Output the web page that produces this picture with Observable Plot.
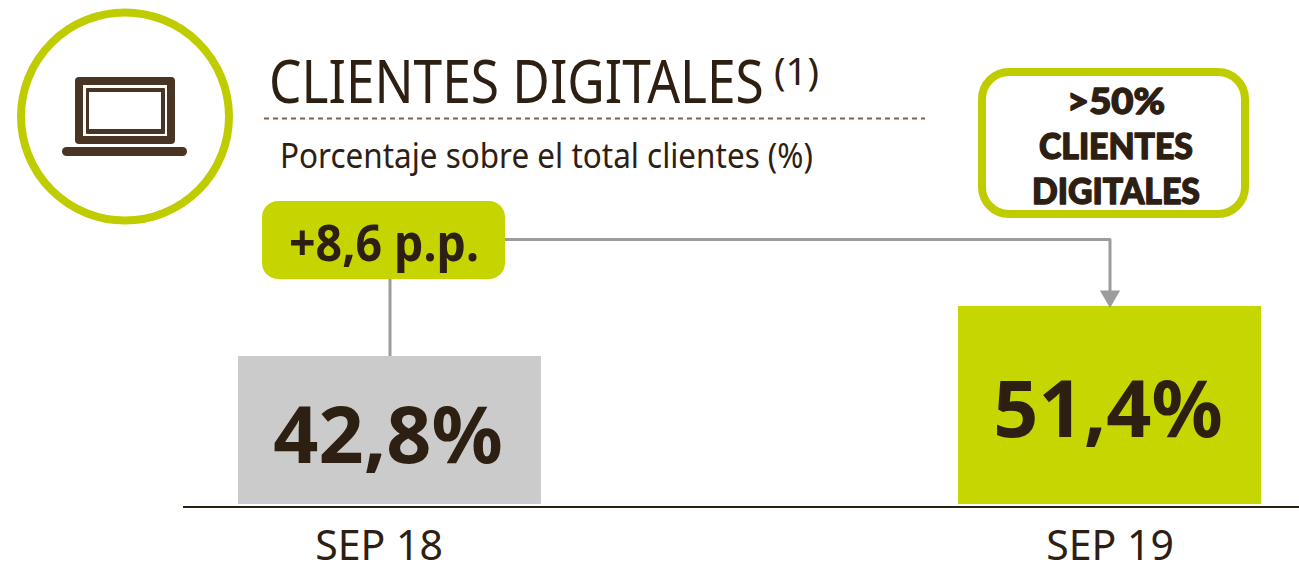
<!DOCTYPE html>
<html><head><meta charset="utf-8">
<script src="https://cdn.jsdelivr.net/npm/d3@7"></script>
<script src="https://cdn.jsdelivr.net/npm/@observablehq/plot@0.6"></script>
<style>html,body{margin:0;padding:0;background:#fff;overflow:hidden}svg{display:block}</style>
</head><body><div id="chart"></div>
<script>
const categories = ["SEP 18", "SEP 19"];
const values = [42.8, 51.4];
const barColors = ["#cbcbcb", "#c5d600"];
const titleText = "CLIENTES DIGITALES";
const subtitleText = "Porcentaje sobre el total clientes (%)";
const deltaText = "+8,6 p.p.";
const calloutLines = [">50%", "CLIENTES", "DIGITALES"];
const connectorLevel = 62.94;
const axisBase = 17.33;

const ink = "#2d2013", brown = "#4a3423", lime = "#bfcc00", grey = "#9c9c9c";
const data = categories.map((c, i) => ({c, v: values[i], color: barColors[i]}));
const font = "'Noto Sans', sans-serif";

function decor() {
  const g = d3.create("svg:g");
  const R = (x, y, w, h, rx, fill) => g.append("rect").attr("x", x).attr("y", y).attr("width", w).attr("height", h).attr("rx", rx).attr("fill", fill);
  const T = (s, x, y, size, weight, len, anchor = "start", fam = font) => g.append("text").text(s)
    .attr("data-x", x).attr("data-y", y).attr("data-len", len)
    .attr("font-size", size).attr("font-weight", weight).attr("font-family", fam).attr("fill", ink).attr("text-anchor", anchor);
  g.append("circle").attr("cx", 125).attr("cy", 116.5).attr("r", 104).attr("fill", "none").attr("stroke", lime).attr("stroke-width", 8);
  R(75, 77, 100, 67, 4, brown);
  R(83, 85, 84, 51, 0, "#fff");
  R(86, 88, 79, 46, 1, brown);
  R(89, 92, 72, 37, 0, "#fff");
  R(62, 147, 125, 9, 4.5, brown);
  T(titleText, 269, 103, 61, 400, 495);
  T("(1)", 774, 85, 38, 400, 45);
  g.append("line").attr("x1", 264).attr("x2", 925).attr("y1", 118.5).attr("y2", 118.5).attr("stroke", "#7a6450").attr("stroke-width", 2).attr("stroke-dasharray", "5 4");
  T(subtitleText, 280, 168, 35, 400, 533);
  R(262, 201, 243, 78, 16, "#c6d500");
  T(deltaText, 289, 261, 50, 700, 190);
  g.append("rect").attr("x", 982).attr("y", 72).attr("width", 263).attr("height", 142).attr("rx", 27).attr("fill", "#fff").attr("stroke", lime).attr("stroke-width", 8);
  const hw = [98, 154, 168], hy = [114, 159, 204];
  calloutLines.forEach((s, i) => T(s, 1116, hy[i], 36, 900, hw[i], "middle", "Lato, sans-serif")
    .attr("stroke", ink).attr("stroke-width", 1.4).attr("stroke-linejoin", "round"));
  return g.node();
}

const plot = Plot.plot({
  width: 1299, height: 571,
  marginLeft: 0, marginRight: 0, marginTop: 0, marginBottom: 64,
  x: {type: "band", domain: categories, range: [238, 1261.6], paddingInner: 0.5785, paddingOuter: 0, align: 0},
  y: {type: "linear", domain: [axisBase, 51.4], range: [504, 306], axis: null},
  marks: [
    Plot.barY(data, {x: "c", y1: axisBase, y2: "v", fill: "color"}),
    Plot.ruleX([categories[0]], {x: d => d, y1: values[0], y2: connectorLevel, stroke: grey, strokeWidth: 3}),
    Plot.line([[categories[0], connectorLevel], [categories[1], connectorLevel], [categories[1], values[1] + 2]], {x: d => d[0], y: d => d[1], stroke: grey, strokeWidth: 3}),
    Plot.dot([categories[1]], {x: d => d, y: values[1] + 1.75, symbol: "triangle", r: 7.5, fill: grey, rotate: 180}),
    decor,
    Plot.text([data[0]], {x: "c", y: "v", text: d => d.v.toFixed(1).replace(".", ",") + "%", fontSize: 79, fontWeight: 700, fontFamily: font, fill: ink, dx: -2, dy: 81}),
    Plot.text([data[1]], {x: "c", y: "v", text: d => d.v.toFixed(1).replace(".", ",") + "%", fontSize: 79, fontWeight: 700, fontFamily: font, fill: ink, dx: -2, dy: 105}),
    () => d3.create("svg:line").attr("x1", 183).attr("x2", 1299).attr("y1", 507).attr("y2", 507).attr("stroke", ink).attr("stroke-width", 2).node(),
    Plot.axisX({ticks: [categories[0]], tickSize: 0, tickPadding: 0, dx: -11, dy: 23, fontSize: 41, fontFamily: font, fill: ink, label: null}),
    Plot.axisX({ticks: [categories[1]], tickSize: 0, tickPadding: 0, dy: 23, fontSize: 41, fontFamily: font, fill: ink, label: null})
  ]
});
document.getElementById("chart").append(plot);
// fit the annotation texts to the reference's narrower typeface
d3.select(plot).selectAll("text[data-len]").each(function () {
  const natural = this.getComputedTextLength();
  const s = +this.getAttribute("data-len") / natural;
  this.setAttribute("transform", `translate(${this.getAttribute("data-x")},${this.getAttribute("data-y")}) scale(${s},1)`);
});
</script></body></html>
